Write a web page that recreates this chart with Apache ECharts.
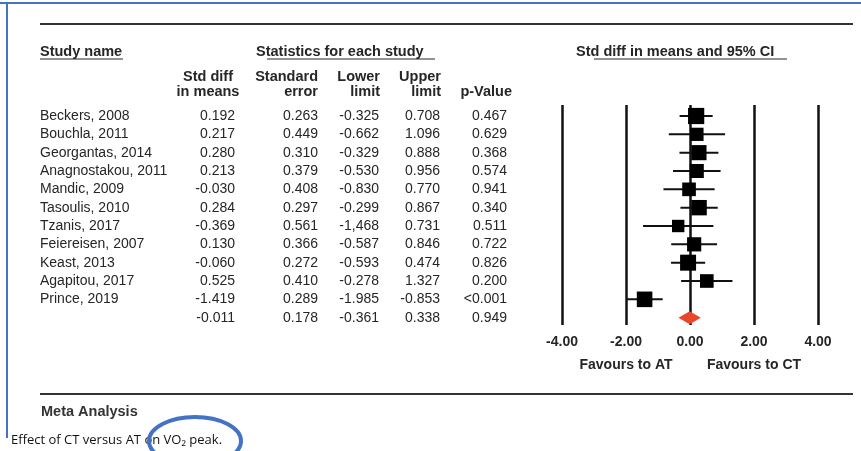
<!DOCTYPE html>
<html>
<head>
<meta charset="utf-8">
<script src="https://cdn.jsdelivr.net/npm/echarts@6/dist/echarts.min.js"></script>
<style>
  html, body { margin: 0; padding: 0; background: #fff; }
  #chart { width: 861px; height: 451px; }
</style>
</head>
<body>
<div id="chart"></div>
<script>
// Forest plot: combined vs aerobic training, std diff in means with 95% CI
const studies = ['Beckers, 2008', 'Bouchla, 2011', 'Georgantas, 2014', 'Anagnostakou, 2011',
  'Mandic, 2009', 'Tasoulis, 2010', 'Tzanis, 2017', 'Feiereisen, 2007', 'Keast, 2013',
  'Agapitou, 2017', 'Prince, 2019'];
const stdDiff = [0.192, 0.217, 0.280, 0.213, -0.030, 0.284, -0.369, 0.130, -0.060, 0.525, -1.419];
const stdErr = [0.263, 0.449, 0.310, 0.379, 0.408, 0.297, 0.561, 0.366, 0.272, 0.410, 0.289];
const lowerLimit = [-0.325, -0.662, -0.329, -0.530, -0.830, -0.299, -1.468, -0.587, -0.593, -0.278, -1.985];
const upperLimit = [0.708, 1.096, 0.888, 0.956, 0.770, 0.867, 0.731, 0.846, 0.474, 1.327, -0.853];
const pValues = ['0.467', '0.629', '0.368', '0.574', '0.941', '0.340', '0.511', '0.722', '0.826', '0.200', '<0.001'];
// Lower limit as printed for Tzanis uses a comma
const lowerLabels = ['-0.325', '-0.662', '-0.329', '-0.530', '-0.830', '-0.299', '-1,468', '-0.587', '-0.593', '-0.278', '-1.985'];

const pooled = { est: -0.011, se: 0.178, lo: -0.361, hi: 0.338, p: '0.949' };

const FONT = '"Liberation Sans", Arial, sans-serif';
const INK = '#262626';

const fmt = v => v.toFixed(3);

// rows for the table (studies + pooled summary)
const tableRows = studies.map((s, i) => [i, s, fmt(stdDiff[i]), fmt(stdErr[i]), lowerLabels[i], fmt(upperLimit[i]), pValues[i]]);
tableRows.push([studies.length, '', fmt(pooled.est), fmt(pooled.se), fmt(pooled.lo), fmt(pooled.hi), pooled.p]);

const studyData = studies.map((s, i) => [stdDiff[i], lowerLimit[i], upperLimit[i], stdErr[i], i]);

// column anchors in the table grid (px coordinates on a 0..861 axis)
const nameX = 40;
const colRight = [235, 318, 379, 440, 507];

const chart = echarts.init(document.getElementById('chart'), null, { renderer: 'canvas' });

const yRange = { min: -0.6, max: 11.4 };
const bodyFont = '14px ' + FONT;
const headFont = 'bold 14.5px ' + FONT;

chart.setOption({
  backgroundColor: '#fff',
  animation: false,
  grid: [
    { left: 562, width: 256, top: 105, height: 220 },
    { left: 0, width: 861, top: 105, height: 220 }
  ],
  xAxis: [
    {
      gridIndex: 0, type: 'value', min: -4, max: 4, interval: 2,
      axisLine: { show: false }, axisTick: { show: false },
      splitLine: { show: true, lineStyle: { color: '#111', width: 2.5 } },
      axisLabel: {
        margin: 10, color: INK, fontFamily: FONT, fontWeight: 'bold', fontSize: 14,
        formatter: v => v.toFixed(2)
      }
    },
    { gridIndex: 1, type: 'value', min: 0, max: 861, show: false }
  ],
  yAxis: [
    { gridIndex: 0, type: 'value', inverse: true, min: yRange.min, max: yRange.max, show: false },
    { gridIndex: 1, type: 'value', inverse: true, min: yRange.min, max: yRange.max, show: false }
  ],
  series: [
    {
      // confidence intervals and weight squares
      type: 'custom', xAxisIndex: 0, yAxisIndex: 0,
      data: studyData,
      renderItem: (params, api) => {
        const est = api.value(0), lo = api.value(1), hi = api.value(2), se = api.value(3), row = api.value(4);
        const pc = api.coord([est, row]);
        const pl = api.coord([lo, row]);
        const ph = api.coord([hi, row]);
        const size = 9 + 1.9 * Math.sqrt(1 / (se * se));
        return {
          type: 'group',
          children: [
            { type: 'line', shape: { x1: pl[0], y1: pc[1], x2: ph[0], y2: pc[1] },
              style: { stroke: '#111', lineWidth: 2 } },
            { type: 'rect', shape: { x: pc[0] - size / 2, y: pc[1] - size / 2, width: size, height: size },
              style: { fill: '#000' } }
          ]
        };
      },
      z: 5
    },
    {
      // pooled effect diamond
      type: 'custom', xAxisIndex: 0, yAxisIndex: 0,
      data: [[pooled.est, pooled.lo, pooled.hi, studies.length]],
      renderItem: (params, api) => {
        const row = api.value(3);
        const c = api.coord([api.value(0), row]);
        const l = api.coord([api.value(1), row]);
        const h = api.coord([api.value(2), row]);
        const half = 6.5;
        return {
          type: 'polygon',
          shape: { points: [[l[0], c[1]], [c[0], c[1] - half], [h[0], c[1]], [c[0], c[1] + half]] },
          style: { fill: '#e8472d' }
        };
      },
      z: 6
    },
    {
      // statistics table
      type: 'custom', xAxisIndex: 1, yAxisIndex: 1,
      data: tableRows,
      renderItem: (params, api) => {
        const r = tableRows[params.dataIndex];
        const y = api.coord([0, r[0]])[1];
        const children = [{
          type: 'text', x: api.coord([nameX, 0])[0], y: y,
          style: { text: r[1], fill: INK, font: bodyFont, textAlign: 'left', textVerticalAlign: 'middle' }
        }];
        colRight.forEach((cx, k) => {
          children.push({
            type: 'text', x: api.coord([cx, 0])[0], y: y,
            style: { text: r[k + 2], fill: INK, font: bodyFont, textAlign: 'right', textVerticalAlign: 'middle' }
          });
        });
        return { type: 'group', children };
      }
    }
  ],
  graphic: [
    // blue frame (top and left edges)
    { type: 'line', shape: { x1: 0, y1: 3, x2: 861, y2: 3 }, style: { stroke: '#4472c4', lineWidth: 2 } },
    { type: 'line', shape: { x1: 7, y1: 3, x2: 7, y2: 438 }, style: { stroke: '#4472c4', lineWidth: 2 } },
    // rules
    { type: 'line', shape: { x1: 40, y1: 24, x2: 853, y2: 24 }, style: { stroke: '#333', lineWidth: 2 } },
    { type: 'line', shape: { x1: 40, y1: 394, x2: 853, y2: 394 }, style: { stroke: '#333', lineWidth: 2 } },
    // section headers
    { type: 'text', left: 40, top: 44, style: { text: 'Study name', font: headFont, fill: INK } },
    { type: 'line', shape: { x1: 40, y1: 59, x2: 123, y2: 59 }, style: { stroke: INK, lineWidth: 1.2 } },
    { type: 'text', left: 256, top: 44, style: { text: 'Statistics for each study', font: headFont, fill: INK } },
    { type: 'line', shape: { x1: 267, y1: 59, x2: 435, y2: 59 }, style: { stroke: INK, lineWidth: 1.2 } },
    { type: 'text', left: 576, top: 44, style: { text: 'Std diff in means and 95% CI', font: headFont, fill: INK } },
    { type: 'line', shape: { x1: 594, y1: 59, x2: 787, y2: 59 }, style: { stroke: INK, lineWidth: 1.2 } },
    // column headers
    { type: 'text', x: 208, y: 84, style: { text: 'Std diff\nin means', font: headFont, fill: INK, textAlign: 'center', textVerticalAlign: 'middle', lineHeight: 15 } },
    { type: 'text', x: 318, y: 84, style: { text: 'Standard\nerror', font: headFont, fill: INK, textAlign: 'right', textVerticalAlign: 'middle', lineHeight: 15 } },
    { type: 'text', x: 380, y: 84, style: { text: 'Lower\nlimit', font: headFont, fill: INK, textAlign: 'right', textVerticalAlign: 'middle', lineHeight: 15 } },
    { type: 'text', x: 441, y: 84, style: { text: 'Upper\nlimit', font: headFont, fill: INK, textAlign: 'right', textVerticalAlign: 'middle', lineHeight: 15 } },
    { type: 'text', x: 512, y: 92, style: { text: 'p-Value', font: headFont, fill: INK, textAlign: 'right', textVerticalAlign: 'middle' } },
    // favours labels
    { type: 'text', x: 626, y: 365, style: { text: 'Favours to AT', font: 'bold 14px ' + FONT, fill: INK, textAlign: 'center', textVerticalAlign: 'middle' } },
    { type: 'text', x: 754, y: 365, style: { text: 'Favours to CT', font: 'bold 14px ' + FONT, fill: INK, textAlign: 'center', textVerticalAlign: 'middle' } },
    // footer
    { type: 'text', left: 41, top: 404, style: { text: 'Meta Analysis', font: 'bold 14.5px ' + FONT, fill: '#333' } },
    { type: 'text', left: 11, top: 434, style: { text: 'Effect of CT versus AT on VO₂ peak.', font: '13px "Open Sans", sans-serif', fill: '#111' } },
    { type: 'ellipse', shape: { cx: 195, cy: 441, rx: 46, ry: 24 }, style: { fill: 'none', stroke: '#4472c4', lineWidth: 4 }, z: 10 }
  ]
});
</script>
</body>
</html>
